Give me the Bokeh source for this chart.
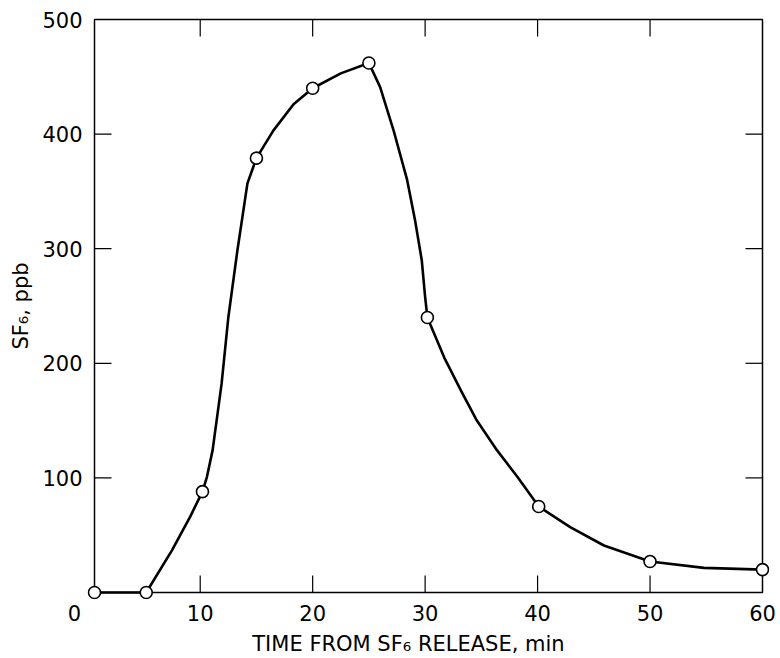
from bokeh.plotting import figure
from bokeh.models import LinearAxis, FixedTicker, Range1d
from bokeh.embed import file_html
from bokeh.resources import INLINE

# Measured points (time in min, SF6 in ppb)
time_min = [0.6, 5.2, 10.2, 15, 20, 25, 30.2, 40.1, 50, 60]
sf6_ppb = [0, 0, 88, 379, 440, 462, 240, 75, 27, 20]

# Hand-drawn smooth curve
curve_time = [0.6, 5.2, 7.5, 9.1, 10.2, 10.6, 11.1, 11.9, 12.5, 13.3, 14.2, 14.6, 15.0,
              16.5, 18.3, 20.0, 22.5, 25.0, 26.0, 27.2, 28.4, 29.1, 29.7, 30.0, 30.2,
              31.7, 33.2, 34.6, 36.4, 38.2, 40.1, 42.9, 45.9, 50.0, 54.8, 60.0]
curve_sf6 = [0, 0, 37, 66, 88, 101, 124, 182, 240, 298, 357, 368, 379,
             403, 426, 440, 453, 462, 441, 403, 360, 325, 290, 258, 240,
             205, 176, 150, 124, 101, 75, 57, 41, 27, 21.5, 20]

# Axis limits and ticks
X_MIN, X_MAX = 0.6, 60
Y_MIN, Y_MAX = 0, 500
x_ticks = [10, 20, 30, 40, 50, 60]
y_ticks = [100, 200, 300, 400, 500]
x_label_ticks = [0, 10, 20, 30, 40, 50, 60]
x_title = "TIME FROM SF\u2086 RELEASE, min"
y_title = "SF\u2086, ppb"

FONT = "DejaVu Sans"
NBSP = "\u00a0"

# layout in pixels
BOX_W, BOX_H = 668, 573      # size of the drawn box
PAD = 7                      # room so markers on the box edge are not clipped
LEFT, TOP, RIGHT, BOTTOM = 87, 12, 7, 59
TICK_PX = 17

x_per_px = (X_MAX - X_MIN) / BOX_W
y_per_px = (Y_MAX - Y_MIN) / BOX_H

p = figure(width=LEFT + BOX_W + 2 * PAD + RIGHT, height=TOP + BOX_H + 2 * PAD + BOTTOM,
           output_backend="svg", toolbar_location=None,
           x_range=Range1d(X_MIN - PAD * x_per_px, X_MAX + PAD * x_per_px),
           y_range=Range1d(Y_MIN - PAD * y_per_px, Y_MAX + PAD * y_per_px),
           x_axis_location=None, y_axis_location=None)
p.min_border_left = LEFT
p.min_border_right = RIGHT
p.min_border_top = TOP
p.min_border_bottom = BOTTOM
p.outline_line_color = None
p.xgrid.visible = False
p.ygrid.visible = False
p.background_fill_color = "white"
p.border_fill_color = "white"


def style(ax):
    ax.major_tick_in = 0
    ax.major_tick_out = 0
    ax.minor_tick_in = 0
    ax.minor_tick_out = 0
    ax.axis_line_color = None
    ax.major_tick_line_color = None
    ax.minor_tick_line_color = None
    ax.major_label_text_font = FONT
    ax.major_label_text_font_size = "21px"
    ax.major_label_text_color = "black"
    ax.axis_label_text_font = FONT
    ax.axis_label_text_font_size = "21px"
    ax.axis_label_text_font_style = "normal"
    ax.axis_label_text_color = "black"


# trailing non-breaking spaces shift the centred text slightly left, as in the original
bottom = LinearAxis(ticker=FixedTicker(ticks=x_label_ticks), axis_label=x_title + NBSP * 6)
style(bottom)
bottom.major_label_standoff = 2
bottom.axis_label_standoff = 3
bottom.major_label_overrides = {0: "0" + NBSP * 4}
p.add_layout(bottom, "below")

left = LinearAxis(ticker=FixedTicker(ticks=y_ticks), axis_label=y_title)
style(left)
left.major_label_standoff = 5
left.axis_label_standoff = 6
p.add_layout(left, "left")

# the box
p.quad(left=[X_MIN], right=[X_MAX], bottom=[Y_MIN], top=[Y_MAX],
       fill_color=None, line_color="black", line_width=1.5)

# inward ticks on all four sides
tx = x_ticks[:-1]
ty = y_ticks[:-1]
tlx = TICK_PX * x_per_px
tly = TICK_PX * y_per_px
p.segment(x0=tx, y0=[Y_MIN] * len(tx), x1=tx, y1=[Y_MIN + tly] * len(tx),
          line_color="black", line_width=1.2)
p.segment(x0=tx, y0=[Y_MAX] * len(tx), x1=tx, y1=[Y_MAX - tly] * len(tx),
          line_color="black", line_width=1.2)
p.segment(x0=[X_MIN] * len(ty), y0=ty, x1=[X_MIN + tlx] * len(ty), y1=ty,
          line_color="black", line_width=1.2)
p.segment(x0=[X_MAX] * len(ty), y0=ty, x1=[X_MAX - tlx] * len(ty), y1=ty,
          line_color="black", line_width=1.2)

p.line(curve_time, curve_sf6, line_color="black", line_width=2.6, line_join="round")
p.scatter(time_min, sf6_ppb, size=12, fill_color="white", line_color="black", line_width=1.6)

open("out.html", "w").write(file_html(p, INLINE))
